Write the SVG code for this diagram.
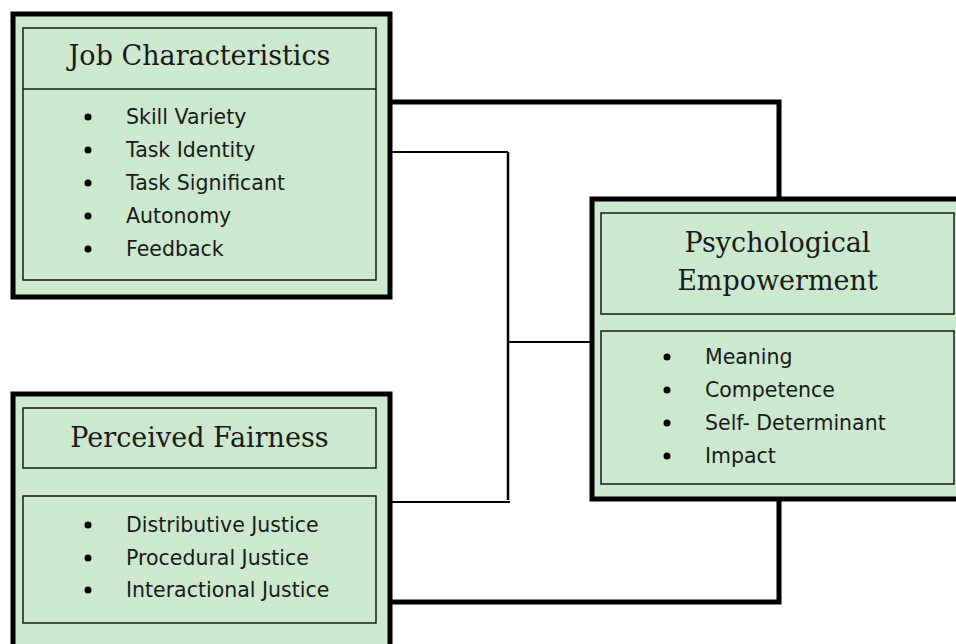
<svg xmlns="http://www.w3.org/2000/svg" width="956" height="644" viewBox="0 0 956 644">
<style>
.outer{fill:#cce8cf;stroke:#000;stroke-width:5}
.inner{fill:#cce8cf;stroke:#1a1a1a;stroke-width:1.5}
.title{font-family:"DejaVu Serif","Liberation Serif",serif;font-size:27px;fill:#1a1a1a;text-anchor:middle}
.item{font-family:"DejaVu Sans","Liberation Sans",sans-serif;font-size:20.5px;fill:#1a1a1a}
.dot{fill:#000}
.thick{fill:none;stroke:#000;stroke-width:5}
.thin{fill:none;stroke:#000;stroke-width:2}
</style>
<rect width="956" height="644" fill="#fff"/>
<g id="connectors">
<path class="thick" d="M390 102 H779 V199"/>
<path class="thick" d="M779 499 V602 H390"/>
<path class="thin" d="M390 152 H508" />
<path class="thin" d="M508 152 V500" style="stroke-width:2.5"/>
<path class="thin" d="M508 342 H592"/>
<path class="thin" d="M390 502 H510"/>
</g>
<g id="job-characteristics">
<rect class="outer" x="13" y="14" width="377" height="283"/>
<rect class="inner" x="23" y="28" width="353" height="252"/>
<line x1="23" y1="89" x2="376" y2="89" stroke="#1a1a1a" stroke-width="1.5"/>
<text class="title" x="199.5" y="65">Job Characteristics</text>
<circle class="dot" cx="88" cy="117" r="3.5"/><text class="item" x="126" y="124">Skill Variety</text>
<circle class="dot" cx="88" cy="150" r="3.5"/><text class="item" x="126" y="157">Task Identity</text>
<circle class="dot" cx="88" cy="183" r="3.5"/><text class="item" x="126" y="190">Task Significant</text>
<circle class="dot" cx="88" cy="216" r="3.5"/><text class="item" x="126" y="223">Autonomy</text>
<circle class="dot" cx="88" cy="249" r="3.5"/><text class="item" x="126" y="256">Feedback</text>
</g>
<g id="perceived-fairness">
<rect class="outer" x="13" y="394" width="377" height="270"/>
<rect class="inner" x="23" y="408" width="353" height="60"/>
<text class="title" x="199.5" y="447">Perceived Fairness</text>
<rect class="inner" x="23" y="496" width="353" height="127"/>
<circle class="dot" cx="88" cy="525" r="3.5"/><text class="item" x="126" y="532">Distributive Justice</text>
<circle class="dot" cx="88" cy="558" r="3.5"/><text class="item" x="126" y="565">Procedural Justice</text>
<circle class="dot" cx="88" cy="590" r="3.5"/><text class="item" x="126" y="597">Interactional Justice</text>
</g>
<g id="psychological-empowerment">
<rect class="outer" x="592" y="199" width="380" height="300"/>
<rect class="inner" x="601" y="213" width="353" height="101"/>
<text class="title" x="777.5" y="252">Psychological</text>
<text class="title" x="777.5" y="290">Empowerment</text>
<rect class="inner" x="601" y="331" width="353" height="153"/>
<circle class="dot" cx="667" cy="357" r="3.5"/><text class="item" x="705" y="364">Meaning</text>
<circle class="dot" cx="667" cy="390" r="3.5"/><text class="item" x="705" y="397">Competence</text>
<circle class="dot" cx="667" cy="423" r="3.5"/><text class="item" x="705" y="430">Self- Determinant</text>
<circle class="dot" cx="667" cy="456" r="3.5"/><text class="item" x="705" y="463">Impact</text>
</g>
</svg>
